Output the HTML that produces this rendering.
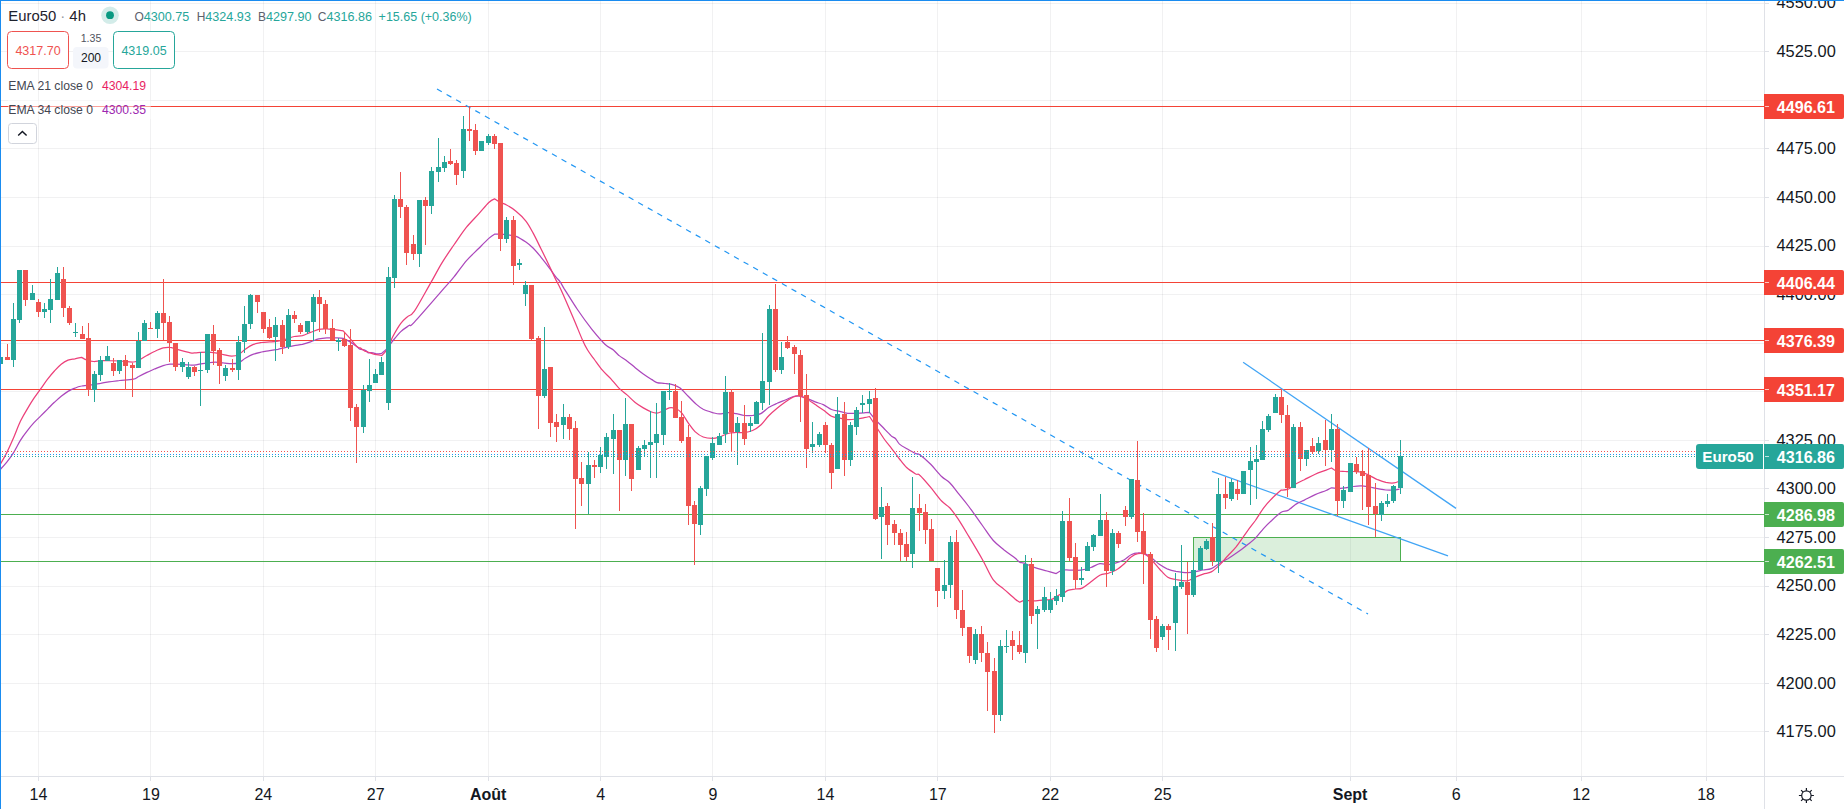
<!DOCTYPE html>
<html><head><meta charset="utf-8"><title>Euro50 4h</title>
<style>html,body{margin:0;padding:0;background:#fff;overflow:hidden}body{width:1844px;height:809px;position:relative;font-family:'Liberation Sans', Arial, sans-serif}</style></head>
<body>
<svg width="1844" height="809" viewBox="0 0 1844 809" style="position:absolute;left:0;top:0">
<defs><clipPath id="cp"><rect x="0" y="0" width="1764" height="776"/></clipPath></defs>
<rect width="1844" height="809" fill="#fff"/>
<path d="M38.5 0V776 M150.5 0V776 M263.5 0V776 M375.5 0V776 M488.5 0V776 M600.5 0V776 M712.5 0V776 M825.5 0V776 M937.5 0V776 M1050.5 0V776 M1162.5 0V776 M1350.5 0V776 M1456.5 0V776 M1581.5 0V776 M1706.5 0V776 M0 3.5H1764 M0 51.5H1764 M0 100.5H1764 M0 148.5H1764 M0 197.5H1764 M0 246.5H1764 M0 294.5H1764 M0 343.5H1764 M0 391.5H1764 M0 440.5H1764 M0 488.5H1764 M0 537.5H1764 M0 586.5H1764 M0 634.5H1764 M0 683.5H1764 M0 731.5H1764" stroke="rgba(42,46,57,0.065)" stroke-width="1" fill="none"/>
<g clip-path="url(#cp)">
<rect x="1193.5" y="537.5" width="207" height="24" fill="rgba(76,175,80,0.2)" stroke="#4caf50" stroke-width="1"/>
<path d="M0 106.5H1764" stroke="#f44336" stroke-width="1" shape-rendering="crispEdges"/>
<path d="M0 282.5H1764" stroke="#f44336" stroke-width="1" shape-rendering="crispEdges"/>
<path d="M0 340.5H1764" stroke="#f44336" stroke-width="1" shape-rendering="crispEdges"/>
<path d="M0 389.5H1764" stroke="#f44336" stroke-width="1" shape-rendering="crispEdges"/>
<path d="M0 514.5H1764" stroke="#4caf50" stroke-width="1" shape-rendering="crispEdges"/>
<path d="M0 561.5H1764" stroke="#4caf50" stroke-width="1" shape-rendering="crispEdges"/>
<path d="M437 89L1368 614" stroke="#2196f3" stroke-width="1.2" stroke-dasharray="5.5 5.5" fill="none"/>
<path d="M1243.1 362.2L1456 508.4" stroke="#42a5f5" stroke-width="1.3" fill="none"/>
<path d="M1212 471.4L1448 555.8" stroke="#42a5f5" stroke-width="1.3" fill="none"/>
<path d="M0.0 469.7C1.1 468.5 4.5 465.0 6.8 462.1C9.1 459.3 11.3 456.2 13.6 452.6C15.9 449.0 18.1 444.0 20.4 440.4C22.7 436.7 24.9 433.8 27.2 430.9C29.5 427.9 31.7 425.2 34.0 422.7C36.3 420.2 38.5 418.2 40.8 415.9C43.1 413.6 45.3 411.4 47.6 409.1C49.9 406.8 52.1 404.4 54.4 402.3C56.7 400.2 58.9 398.1 61.2 396.3C63.5 394.5 65.7 392.8 68.0 391.4C70.3 390.1 72.5 389.1 74.8 388.2C77.1 387.2 79.5 386.4 81.6 386.0C83.6 385.5 85.0 385.7 87.0 385.4C89.1 385.2 91.6 385.0 93.8 384.6C96.1 384.3 98.1 383.7 100.6 383.3C103.1 382.8 105.6 382.4 108.8 381.9C112.0 381.4 115.6 381.0 119.7 380.5C123.7 380.1 130.1 379.9 133.3 379.2C136.4 378.5 136.4 377.6 138.7 376.5C141.0 375.3 144.1 373.7 146.9 372.4C149.6 371.1 152.3 370.0 155.0 368.8C157.7 367.7 160.7 366.4 163.2 365.6C165.7 364.8 167.7 364.5 170.0 364.2C172.2 364.0 173.4 364.1 176.8 364.2C180.2 364.4 187.1 364.9 190.4 365.0C193.6 365.1 193.5 365.1 196.3 364.8C199.1 364.4 204.0 363.3 207.2 362.9C210.4 362.4 212.6 362.0 215.4 362.0C218.1 362.0 220.8 362.6 223.5 362.9C226.2 363.1 229.2 363.7 231.7 363.7C234.2 363.7 236.2 363.8 238.5 362.9C240.7 362.0 242.8 359.7 245.3 358.2C247.8 356.8 250.7 355.2 253.4 354.2C256.1 353.1 258.9 352.6 261.6 352.0C264.3 351.4 267.0 351.1 269.7 350.6C272.5 350.2 275.2 349.8 277.9 349.3C280.6 348.7 283.3 348.0 286.1 347.4C288.8 346.8 291.5 346.2 294.2 345.7C296.9 345.2 299.7 345.0 302.4 344.4C305.1 343.7 307.8 342.8 310.5 341.9C313.3 341.0 316.0 339.6 318.7 338.9C321.4 338.3 324.1 338.0 326.9 337.8C329.6 337.7 332.3 337.8 335.0 337.8C337.7 337.9 340.7 337.7 343.2 338.4C345.7 339.1 347.7 340.6 350.0 341.9C352.2 343.3 355.1 345.3 356.8 346.5C358.4 347.8 358.6 348.7 360.0 349.3C361.4 349.9 363.6 349.5 364.9 350.1C366.3 350.7 368.2 352.8 368.2 352.8C368.2 352.8 371.7 352.6 373.1 352.8C374.5 353.0 374.9 353.8 376.3 353.9C377.8 354.0 381.8 353.3 381.8 353.3C381.8 353.3 385.4 350.5 387.2 348.4C389.0 346.4 390.4 343.9 392.6 341.1C394.9 338.3 398.1 334.2 400.8 331.6C403.5 329.0 406.7 327.2 409.0 325.6C411.2 324.0 408.3 328.6 414.4 322.1C420.5 315.6 438.9 294.1 445.5 286.6C452.2 279.0 450.7 281.0 454.2 276.7C457.7 272.4 462.4 265.4 466.5 260.6C470.7 255.9 475.2 252.0 478.9 248.3C482.6 244.5 486.2 240.7 488.8 238.4C491.4 236.0 494.5 234.2 494.5 234.2C494.5 234.2 498.4 234.1 500.4 234.2C502.4 234.2 504.0 234.3 506.6 234.7C509.2 235.0 512.8 235.2 516.0 236.4C519.2 237.6 523.0 240.1 525.9 242.1C528.8 244.1 530.8 245.8 533.3 248.3C535.8 250.7 538.0 253.6 540.7 256.9C543.5 260.3 547.2 265.1 549.6 268.4C552.1 271.7 553.8 274.5 555.6 276.7C557.3 278.9 558.6 279.7 560.0 281.6C561.4 283.6 561.3 284.0 564.1 288.6C567.0 293.1 572.5 302.2 577.1 309.0C581.7 315.8 587.3 323.5 591.9 329.4C596.6 335.2 601.4 340.8 604.9 344.2C608.5 347.6 611.1 348.1 613.4 350.0C615.8 351.9 616.6 353.6 618.9 355.4C621.1 357.3 624.3 358.8 627.0 360.9C629.7 362.9 632.5 365.5 635.2 367.7C637.9 369.9 640.6 372.0 643.3 373.9C646.1 375.9 649.2 377.9 651.5 379.4C653.8 380.8 654.7 382.0 656.9 382.6C659.2 383.3 662.4 383.1 665.1 383.5C667.8 383.8 670.8 384.0 673.3 384.8C675.8 385.6 677.6 386.2 680.1 388.1C682.6 390.0 685.5 393.5 688.2 396.2C690.9 399.0 693.9 402.2 696.4 404.4C698.9 406.6 700.5 407.9 703.2 409.3C705.9 410.6 710.0 411.8 712.7 412.6C715.4 413.3 717.0 413.9 719.5 413.9C722.0 413.9 725.1 412.7 727.9 412.7C730.7 412.6 733.3 413.1 736.1 413.6C738.8 414.1 741.7 415.2 744.5 415.5C747.2 415.8 749.9 415.8 752.6 415.5C755.4 415.2 758.1 415.0 760.8 413.6C763.5 412.2 766.2 409.1 769.0 407.3C771.7 405.6 774.4 404.5 777.1 403.3C779.8 402.0 782.6 401.1 785.3 400.0C788.0 398.9 791.2 397.1 793.4 396.5C795.7 395.8 796.6 395.6 798.9 395.9C801.1 396.2 804.3 397.4 807.0 398.4C809.7 399.4 812.5 400.9 815.2 401.9C817.9 402.9 820.6 403.4 823.3 404.6C826.1 405.9 828.8 408.4 831.5 409.5C834.2 410.6 836.9 410.8 839.7 411.4C842.4 412.1 845.1 413.0 847.8 413.3C850.5 413.6 853.3 413.4 856.0 413.3C858.7 413.2 861.9 413.0 864.1 412.8C866.4 412.6 869.5 412.3 869.5 412.3C869.5 412.3 873.6 417.5 875.9 420.2C878.3 422.9 881.3 425.7 883.8 428.3C886.4 431.0 889.4 434.2 891.3 435.9C893.3 437.6 894.0 437.1 895.4 438.5C896.7 439.8 897.6 442.3 899.5 444.1C901.4 445.8 904.2 447.2 906.9 448.7C909.7 450.3 913.7 452.6 915.8 453.6C918.0 454.6 917.3 453.0 919.8 454.8C922.3 456.6 927.1 460.7 930.7 464.3C934.3 467.9 938.4 473.5 941.6 476.5C944.8 479.6 947.0 480.1 949.7 482.8C952.5 485.5 954.7 488.9 957.9 492.9C961.1 496.8 964.7 501.0 968.8 506.5C972.9 511.9 978.3 519.8 982.4 525.5C986.5 531.2 989.6 536.4 993.3 540.5C996.9 544.5 1000.5 547.0 1004.1 550.0C1007.8 552.9 1012.4 556.1 1015.0 558.1C1017.6 560.2 1018.1 561.4 1019.7 562.2C1021.2 563.1 1021.6 562.3 1024.1 563.2C1026.7 564.1 1031.2 566.4 1035.0 567.7C1038.8 569.0 1043.5 570.0 1047.0 571.0C1050.6 572.0 1056.2 573.6 1056.2 573.6C1056.2 573.6 1060.3 570.8 1062.5 570.2C1064.6 569.6 1066.2 570.1 1069.3 570.1C1072.3 570.1 1077.2 570.6 1080.8 570.2C1084.5 569.8 1087.9 568.6 1091.0 567.5C1094.2 566.4 1097.0 564.2 1099.8 563.7C1102.7 563.3 1105.3 564.7 1108.0 564.6C1110.7 564.4 1113.4 563.7 1116.1 562.9C1118.9 562.1 1121.8 561.0 1124.3 559.7C1126.8 558.3 1128.8 555.9 1131.1 554.8C1133.4 553.6 1135.6 553.0 1137.9 552.9C1140.2 552.7 1142.4 552.9 1144.7 553.7C1147.0 554.5 1149.0 555.9 1151.5 557.8C1154.0 559.6 1156.9 562.7 1159.7 564.6C1162.4 566.5 1165.1 568.0 1167.8 569.2C1170.5 570.3 1172.8 570.8 1176.0 571.4C1179.2 571.9 1183.7 572.6 1186.9 572.7C1190.0 572.8 1192.3 572.4 1195.0 571.9C1197.7 571.4 1200.5 570.5 1203.2 570.0C1205.9 569.5 1208.6 569.8 1211.3 568.6C1214.1 567.5 1216.7 564.9 1219.5 563.2C1222.3 561.5 1225.1 560.3 1227.9 558.7C1230.7 557.0 1232.8 555.5 1236.1 553.2C1239.3 551.0 1244.0 547.5 1247.2 544.9C1250.4 542.4 1252.6 540.9 1255.4 538.1C1258.1 535.4 1260.8 531.6 1263.5 528.6C1266.2 525.7 1268.7 523.2 1271.7 520.5C1274.6 517.7 1278.5 514.0 1281.2 512.3C1283.9 510.6 1285.5 511.8 1288.0 510.4C1290.5 509.0 1293.4 505.9 1296.1 504.1C1298.9 502.4 1301.1 501.6 1304.3 500.1C1307.5 498.5 1311.6 496.2 1315.2 494.6C1318.8 493.0 1323.3 491.7 1326.1 490.5C1328.8 489.4 1329.7 488.2 1331.5 487.8C1333.3 487.5 1334.7 488.4 1336.9 488.4C1339.2 488.4 1342.4 488.1 1345.1 487.8C1347.8 487.5 1350.5 486.8 1353.3 486.5C1356.0 486.1 1358.7 485.8 1361.4 485.9C1364.1 486.0 1366.9 486.6 1369.6 487.0C1372.3 487.5 1375.0 488.1 1377.7 488.6C1380.5 489.1 1383.2 489.8 1385.9 490.0C1388.6 490.2 1391.8 490.1 1394.1 490.0C1396.3 489.9 1398.6 489.3 1399.5 489.2" stroke="#ab47bc" stroke-width="1.25" fill="none" stroke-linejoin="round"/>
<path d="M0.0 464.8C1.1 462.8 4.5 457.1 6.8 452.6C9.1 448.1 11.3 442.9 13.6 437.7C15.9 432.4 18.1 426.1 20.4 421.3C22.7 416.6 24.9 412.9 27.2 409.1C29.5 405.2 31.7 401.6 34.0 398.2C36.3 394.8 38.5 391.9 40.8 388.7C43.1 385.5 45.3 382.1 47.6 379.2C49.9 376.2 52.1 373.5 54.4 371.0C56.7 368.5 58.9 366.0 61.2 364.2C63.5 362.4 65.7 361.1 68.0 360.1C70.3 359.2 72.5 359.2 74.8 358.8C77.1 358.3 81.6 357.4 81.6 357.4C81.6 357.4 85.0 359.5 87.0 360.1C89.1 360.8 91.6 361.4 93.8 361.5C96.1 361.6 98.1 360.8 100.6 360.7C103.1 360.6 105.6 360.6 108.8 360.7C112.0 360.7 115.6 360.7 119.7 361.0C123.7 361.2 130.1 362.2 133.3 362.0C136.4 361.9 136.4 361.2 138.7 360.1C141.0 359.1 144.1 357.0 146.9 355.5C149.6 354.0 152.3 352.4 155.0 351.2C157.7 349.9 160.7 348.5 163.2 347.9C165.7 347.3 167.7 347.1 170.0 347.4C172.2 347.6 173.4 348.4 176.8 349.3C180.2 350.2 187.1 352.2 190.4 352.8C193.6 353.4 193.5 352.9 196.3 352.8C199.1 352.7 204.0 352.0 207.2 352.0C210.4 352.0 212.6 352.3 215.4 352.8C218.1 353.3 220.8 354.2 223.5 354.7C226.2 355.2 229.2 356.1 231.7 356.1C234.2 356.1 236.2 355.8 238.5 354.7C240.7 353.6 242.8 351.0 245.3 349.3C247.8 347.5 250.7 345.5 253.4 344.4C256.1 343.2 258.9 342.9 261.6 342.5C264.3 342.1 267.0 342.1 269.7 341.9C272.5 341.7 275.2 341.6 277.9 341.1C280.6 340.7 283.3 340.0 286.1 339.2C288.8 338.4 291.5 337.1 294.2 336.5C296.9 335.9 299.7 336.3 302.4 335.7C305.1 335.0 307.8 333.4 310.5 332.4C313.3 331.4 316.0 330.0 318.7 329.4C321.4 328.8 324.1 328.8 326.9 328.9C329.6 328.9 332.3 329.4 335.0 329.7C337.7 330.0 343.2 330.8 343.2 330.8C343.2 330.8 347.7 335.8 350.0 338.4C352.2 341.0 355.1 345.0 356.8 346.5C358.4 348.1 358.6 347.1 360.0 347.9C361.4 348.7 363.6 350.5 364.9 351.2C366.3 351.8 366.8 351.5 368.2 352.0C369.5 352.4 371.7 353.4 373.1 353.9C374.5 354.3 374.9 354.4 376.3 354.7C377.8 355.0 381.8 355.5 381.8 355.5C381.8 355.5 385.4 352.3 387.2 349.3C389.0 346.2 390.4 341.3 392.6 337.0C394.9 332.7 398.3 326.8 400.8 323.4C403.3 320.0 405.3 318.7 407.6 316.6C409.9 314.6 410.5 316.8 414.4 311.2C418.2 305.6 426.1 290.9 430.7 282.9C435.3 274.9 437.9 269.5 441.8 263.1C445.7 256.7 450.1 250.5 454.2 244.5C458.3 238.6 462.4 232.4 466.5 227.2C470.7 222.1 475.2 217.8 478.9 213.6C482.6 209.5 486.2 205.0 488.8 202.5C491.4 200.0 494.5 198.8 494.5 198.8C494.5 198.8 498.4 201.5 500.4 202.5C502.4 203.5 504.0 203.5 506.6 205.0C509.2 206.4 512.8 208.5 516.0 211.2C519.2 213.8 523.0 217.3 525.9 221.1C528.8 224.8 530.8 228.9 533.3 233.4C535.8 238.0 538.0 242.7 540.7 248.3C543.5 253.8 547.2 261.4 549.6 266.5C552.1 271.7 553.7 275.3 555.6 279.2C557.5 283.1 558.2 283.5 561.1 290.0C564.1 296.6 569.8 309.8 573.4 318.2C577.0 326.6 580.3 335.2 582.7 340.5C585.0 345.8 585.6 346.8 587.6 350.0C589.5 353.2 591.9 356.1 594.4 359.5C596.9 362.9 599.8 367.2 602.6 370.4C605.3 373.6 608.0 375.6 610.7 378.6C613.4 381.5 616.1 385.4 618.9 388.1C621.6 390.8 624.3 392.5 627.0 394.9C629.7 397.3 632.5 400.3 635.2 402.5C637.9 404.7 640.6 406.3 643.3 407.9C646.1 409.5 649.2 411.1 651.5 412.0C653.8 412.9 655.1 413.2 656.9 413.1C658.8 413.0 660.3 412.1 662.4 411.2C664.4 410.3 667.1 408.4 669.2 407.9C671.3 407.5 673.1 407.7 675.2 408.5C677.2 409.2 679.2 410.1 681.4 412.6C683.6 415.0 686.0 419.7 688.2 422.9C690.5 426.1 692.5 429.2 695.0 431.6C697.5 433.9 700.2 435.9 703.2 437.0C706.1 438.2 710.0 438.4 712.7 438.4C715.4 438.4 717.0 437.8 719.5 437.0C722.0 436.2 725.1 434.2 727.9 433.5C730.7 432.7 733.3 432.7 736.1 432.5C738.8 432.4 741.7 433.0 744.5 432.6C747.2 432.3 749.9 431.7 752.6 430.5C755.4 429.2 758.1 427.5 760.8 425.0C763.5 422.5 766.2 418.3 769.0 415.5C771.7 412.7 774.4 410.4 777.1 408.2C779.8 405.9 782.6 403.8 785.3 401.9C788.0 400.0 791.2 398.0 793.4 397.0C795.7 396.0 796.6 395.6 798.9 395.9C801.1 396.3 804.3 397.7 807.0 399.2C809.7 400.6 812.5 402.8 815.2 404.6C817.9 406.4 820.6 408.1 823.3 410.1C826.1 412.0 828.8 415.0 831.5 416.3C834.2 417.7 836.9 417.7 839.7 418.2C842.4 418.8 845.1 419.4 847.8 419.6C850.5 419.7 853.3 419.4 856.0 419.0C858.7 418.7 861.9 418.1 864.1 417.7C866.4 417.3 869.5 416.5 869.5 416.5C869.5 416.5 873.6 422.6 875.9 426.3C878.3 430.0 881.3 434.9 883.8 438.5C886.4 442.2 889.4 445.7 891.3 448.1C893.3 450.6 894.0 451.6 895.4 453.4C896.7 455.2 897.6 456.6 899.5 459.0C901.4 461.4 904.2 465.3 906.9 467.8C909.7 470.3 913.7 472.7 915.8 474.0C918.0 475.2 917.3 472.9 919.8 475.2C922.3 477.4 927.1 483.1 930.7 487.4C934.3 491.7 938.4 497.6 941.6 501.0C944.8 504.4 947.0 504.9 949.7 507.8C952.5 510.8 954.7 513.9 957.9 518.7C961.1 523.5 964.7 529.6 968.8 536.4C972.9 543.2 978.3 552.2 982.4 559.5C986.5 566.7 989.6 574.9 993.3 579.9C996.9 584.9 1000.5 586.2 1004.1 589.4C1007.8 592.6 1012.4 596.8 1015.0 598.9C1017.6 601.1 1019.7 602.2 1019.7 602.2C1019.7 602.2 1022.8 600.5 1025.1 600.3C1027.4 600.1 1030.1 600.9 1033.3 600.9C1036.4 600.8 1041.2 600.0 1044.1 599.8C1047.1 599.6 1049.1 600.0 1050.9 599.6C1052.7 599.3 1053.7 598.4 1055.0 597.6C1056.4 596.8 1057.7 595.7 1059.0 595.0C1060.4 594.3 1061.7 594.3 1063.2 593.5C1064.7 592.7 1065.9 591.1 1067.9 590.3C1069.9 589.6 1073.0 589.4 1075.4 589.0C1077.7 588.7 1079.6 589.4 1082.2 588.1C1084.8 586.9 1088.1 583.9 1091.0 581.8C1094.0 579.6 1097.0 576.6 1099.8 575.2C1102.7 573.7 1105.3 574.1 1108.0 573.3C1110.7 572.4 1113.4 571.6 1116.1 570.0C1118.9 568.4 1121.8 565.9 1124.3 563.7C1126.8 561.6 1128.8 558.6 1131.1 556.9C1133.4 555.3 1135.6 554.1 1137.9 553.7C1140.2 553.2 1142.4 553.2 1144.7 554.2C1147.0 555.2 1149.0 557.2 1151.5 559.7C1154.0 562.2 1156.9 566.2 1159.7 569.2C1162.4 572.1 1165.1 575.6 1167.8 577.3C1170.5 579.1 1172.8 578.9 1176.0 579.5C1179.2 580.1 1183.7 581.2 1186.9 580.9C1190.0 580.5 1192.3 578.5 1195.0 577.3C1197.7 576.2 1200.5 575.0 1203.2 574.1C1205.9 573.2 1208.6 573.4 1211.3 571.9C1214.1 570.4 1216.7 567.8 1219.5 565.1C1222.3 562.4 1225.1 558.7 1227.9 555.7C1230.7 552.7 1232.8 550.9 1236.1 546.9C1239.3 542.8 1244.0 535.7 1247.2 531.3C1250.4 526.9 1252.6 524.3 1255.4 520.5C1258.1 516.6 1260.8 511.8 1263.5 508.2C1266.2 504.6 1268.7 501.7 1271.7 498.7C1274.6 495.7 1281.2 490.0 1281.2 490.0C1281.2 490.0 1285.5 490.2 1288.0 489.2C1290.5 488.1 1293.4 485.3 1296.1 483.7C1298.9 482.2 1301.1 481.2 1304.3 479.7C1307.5 478.1 1311.6 475.8 1315.2 474.2C1318.8 472.6 1323.3 471.2 1326.1 470.1C1328.8 469.1 1331.5 468.0 1331.5 468.0C1331.5 468.0 1334.7 470.4 1336.9 471.0C1339.2 471.5 1342.4 471.4 1345.1 471.5C1347.8 471.6 1350.5 471.4 1353.3 471.5C1356.0 471.6 1358.7 471.4 1361.4 472.0C1364.1 472.7 1366.9 474.3 1369.6 475.6C1372.3 476.9 1375.0 478.5 1377.7 479.7C1380.5 480.8 1383.2 481.8 1385.9 482.4C1388.6 482.9 1391.8 483.2 1394.1 482.9C1396.3 482.7 1398.6 481.3 1399.5 481.0" stroke="#ec407a" stroke-width="1.25" fill="none" stroke-linejoin="round"/>
<path d="M0.5 357V364 M13.5 303V367 M19.5 270V323 M32.5 285V300 M44.5 303V318 M50.5 279V323 M57.5 267V300 M75.5 323V337 M94.5 371V402 M100.5 356V381 M107.5 346V361 M119.5 360V374 M138.5 332V368 M144.5 320V341 M157.5 311V338 M182.5 358V372 M188.5 362V379 M200.5 352V406 M207.5 334V373 M225.5 365V381 M238.5 336V380 M244.5 306V353 M250.5 294V329 M275.5 317V361 M288.5 309V349 M307.5 321V334 M313.5 294V341 M338.5 338V351 M363.5 385V433 M369.5 359V402 M375.5 369V383 M381.5 357V375 M388.5 267V410 M394.5 195V288 M419.5 200V267 M431.5 167V214 M438.5 138V182 M444.5 156V172 M463.5 116V178 M481.5 141V151 M488.5 134V145 M506.5 217V243 M519.5 259V270 M525.5 281V306 M544.5 327V398 M563.5 404V439 M588.5 452V514 M600.5 447V473 M606.5 433V469 M613.5 414V474 M625.5 398V476 M638.5 446V470 M644.5 440V456 M650.5 411V478 M656.5 403V478 M663.5 391V445 M669.5 383V400 M700.5 486V535 M706.5 456V496 M712.5 437V460 M719.5 433V445 M725.5 376V443 M737.5 417V465 M750.5 417V432 M756.5 401V424 M762.5 333V410 M769.5 305V405 M781.5 342V374 M812.5 422V453 M819.5 432V447 M837.5 397V469 M850.5 422V466 M856.5 407V435 M862.5 395V413 M869.5 391V413 M881.5 487V559 M912.5 477V568 M944.5 560V599 M950.5 536V598 M975.5 629V664 M1000.5 640V721 M1006.5 630V653 M1025.5 555V663 M1037.5 606V649 M1044.5 587V612 M1050.5 592V613 M1056.5 589V605 M1062.5 511V602 M1081.5 567V585 M1087.5 542V571 M1093.5 534V551 M1100.5 494V536 M1112.5 529V575 M1131.5 479V519 M1162.5 624V640 M1175.5 573V651 M1181.5 545V589 M1193.5 561V597 M1200.5 546V570 M1206.5 539V550 M1218.5 478V573 M1231.5 479V501 M1243.5 471V494 M1250.5 447V505 M1256.5 445V499 M1262.5 421V460 M1268.5 414V432 M1275.5 394V413 M1293.5 424V488 M1306.5 450V466 M1318.5 437V454 M1331.5 414V462 M1343.5 486V508 M1350.5 463V492 M1381.5 501V521 M1387.5 494V507 M1393.5 485V503 M1400.5 440V494" stroke="#26a69a" stroke-width="1" fill="none"/>
<path d="M7.5 344V360 M25.5 270V306 M38.5 299V317 M63.5 267V317 M69.5 306V325 M82.5 326V339 M88.5 323V396 M113.5 358V376 M125.5 355V390 M132.5 363V397 M150.5 322V329 M163.5 279V340 M169.5 316V362 M175.5 343V371 M194.5 366V376 M213.5 325V365 M219.5 348V384 M232.5 359V372 M257.5 295V313 M263.5 312V333 M269.5 319V339 M282.5 320V354 M294.5 311V323 M300.5 323V334 M319.5 290V332 M325.5 300V334 M332.5 319V340 M344.5 332V347 M350.5 329V421 M356.5 404V463 M400.5 172V218 M406.5 205V265 M413.5 235V260 M425.5 197V245 M450.5 149V165 M456.5 160V185 M469.5 107V141 M475.5 124V155 M494.5 134V149 M500.5 143V251 M513.5 216V285 M531.5 285V340 M538.5 336V429 M550.5 367V437 M556.5 414V442 M569.5 414V440 M575.5 421V529 M581.5 462V506 M594.5 460V478 M619.5 430V511 M631.5 424V491 M675.5 384V418 M681.5 401V443 M688.5 425V525 M694.5 501V565 M731.5 389V452 M744.5 405V445 M775.5 284V372 M787.5 336V349 M794.5 345V374 M800.5 350V422 M806.5 374V468 M825.5 422V453 M831.5 443V489 M844.5 402V476 M875.5 388V520 M887.5 503V545 M894.5 520V545 M900.5 529V561 M906.5 532V561 M919.5 494V531 M925.5 504V544 M931.5 519V561 M937.5 568V607 M956.5 530V619 M962.5 590V636 M969.5 627V663 M981.5 626V662 M987.5 642V711 M994.5 658V733 M1012.5 631V660 M1019.5 631V654 M1031.5 558V624 M1069.5 498V561 M1075.5 543V589 M1106.5 512V587 M1118.5 531V548 M1125.5 506V526 M1137.5 441V542 M1143.5 513V584 M1150.5 552V639 M1156.5 616V652 M1168.5 624V650 M1187.5 562V634 M1212.5 523V566 M1225.5 477V509 M1237.5 480V500 M1281.5 389V423 M1287.5 405V497 M1300.5 422V471 M1312.5 438V454 M1325.5 420V466 M1337.5 424V516 M1356.5 457V474 M1362.5 450V510 M1368.5 448V525 M1375.5 483V537" stroke="#ef5350" stroke-width="1" fill="none"/>
<path d="M-2 357h5V364h-5z M11 319h5V360h-5z M17 270h5V320h-5z M30 293h5V300h-5z M42 309h5V312h-5z M48 299h5V310h-5z M55 273h5V300h-5z M73 332h5V333h-5z M92 374h5V390h-5z M98 360h5V375h-5z M105 356h5V361h-5z M117 360h5V371h-5z M136 341h5V368h-5z M142 323h5V341h-5z M155 313h5V329h-5z M180 362h5V367h-5z M186 367h5V377h-5z M198 370h5V371h-5z M205 334h5V370h-5z M223 368h5V376h-5z M236 342h5V370h-5z M242 324h5V342h-5z M248 295h5V324h-5z M273 325h5V337h-5z M286 315h5V347h-5z M305 321h5V332h-5z M311 297h5V322h-5z M336 340h5V342h-5z M361 390h5V427h-5z M367 385h5V391h-5z M373 374h5V383h-5z M379 362h5V375h-5z M386 277h5V403h-5z M392 199h5V278h-5z M417 200h5V254h-5z M429 171h5V206h-5z M436 167h5V172h-5z M442 162h5V168h-5z M461 129h5V171h-5z M479 141h5V151h-5z M486 136h5V143h-5z M504 220h5V239h-5z M517 263h5V265h-5z M523 285h5V294h-5z M542 369h5V396h-5z M561 417h5V425h-5z M586 465h5V484h-5z M598 455h5V467h-5z M604 437h5V457h-5z M611 430h5V439h-5z M623 424h5V460h-5z M636 448h5V470h-5z M642 445h5V449h-5z M648 442h5V445h-5z M654 434h5V443h-5z M661 391h5V435h-5z M667 391h5V392h-5z M698 488h5V525h-5z M704 456h5V489h-5z M710 443h5V458h-5z M717 436h5V445h-5z M723 392h5V434h-5z M735 423h5V432h-5z M748 423h5V426h-5z M754 402h5V424h-5z M760 381h5V403h-5z M767 309h5V382h-5z M779 357h5V370h-5z M810 444h5V447h-5z M817 434h5V445h-5z M835 414h5V469h-5z M848 425h5V460h-5z M854 410h5V427h-5z M860 403h5V405h-5z M867 399h5V404h-5z M879 507h5V517h-5z M910 508h5V554h-5z M942 585h5V591h-5z M948 542h5V585h-5z M973 634h5V660h-5z M998 646h5V715h-5z M1004 646h5V647h-5z M1023 564h5V653h-5z M1035 609h5V614h-5z M1042 597h5V610h-5z M1048 600h5V610h-5z M1054 596h5V601h-5z M1060 521h5V597h-5z M1079 578h5V580h-5z M1085 546h5V571h-5z M1091 535h5V547h-5z M1098 520h5V536h-5z M1110 533h5V571h-5z M1129 479h5V517h-5z M1160 626h5V637h-5z M1173 586h5V623h-5z M1179 582h5V587h-5z M1191 570h5V595h-5z M1198 548h5V570h-5z M1204 541h5V549h-5z M1216 494h5V562h-5z M1229 482h5V499h-5z M1241 471h5V494h-5z M1248 461h5V470h-5z M1254 459h5V462h-5z M1260 429h5V460h-5z M1266 416h5V430h-5z M1273 397h5V413h-5z M1291 427h5V488h-5z M1304 450h5V459h-5z M1316 443h5V451h-5z M1329 429h5V450h-5z M1341 490h5V501h-5z M1348 463h5V492h-5z M1379 503h5V515h-5z M1385 501h5V504h-5z M1391 486h5V501h-5z M1398 456h5V488h-5z" fill="#26a69a"/>
<path d="M5 357h5V360h-5z M23 270h5V300h-5z M36 302h5V312h-5z M61 279h5V308h-5z M67 308h5V323h-5z M80 334h5V339h-5z M86 338h5V390h-5z M111 363h5V371h-5z M123 360h5V366h-5z M130 365h5V368h-5z M148 328h5V329h-5z M161 313h5V323h-5z M167 322h5V343h-5z M173 343h5V367h-5z M192 367h5V372h-5z M211 334h5V351h-5z M217 350h5V366h-5z M230 368h5V370h-5z M255 295h5V302h-5z M261 312h5V329h-5z M267 327h5V338h-5z M280 325h5V347h-5z M292 315h5V319h-5z M298 325h5V332h-5z M317 297h5V304h-5z M323 304h5V329h-5z M330 328h5V340h-5z M342 339h5V346h-5z M348 345h5V408h-5z M354 407h5V427h-5z M398 199h5V207h-5z M404 207h5V253h-5z M411 244h5V254h-5z M423 200h5V206h-5z M448 161h5V164h-5z M454 163h5V175h-5z M467 129h5V131h-5z M473 130h5V151h-5z M492 136h5V144h-5z M498 143h5V239h-5z M511 220h5V266h-5z M529 285h5V339h-5z M536 338h5V396h-5z M548 367h5V423h-5z M554 422h5V427h-5z M567 417h5V429h-5z M573 428h5V479h-5z M579 478h5V484h-5z M592 465h5V467h-5z M617 430h5V460h-5z M629 424h5V479h-5z M673 391h5V418h-5z M679 417h5V441h-5z M686 437h5V506h-5z M692 505h5V524h-5z M729 392h5V432h-5z M742 423h5V439h-5z M773 309h5V370h-5z M785 342h5V348h-5z M792 347h5V354h-5z M798 355h5V396h-5z M804 395h5V449h-5z M823 425h5V445h-5z M829 445h5V473h-5z M842 414h5V460h-5z M873 398h5V519h-5z M885 506h5V525h-5z M892 524h5V533h-5z M898 533h5V545h-5z M904 544h5V557h-5z M917 508h5V513h-5z M923 512h5V530h-5z M929 529h5V561h-5z M935 568h5V591h-5z M954 542h5V610h-5z M960 610h5V628h-5z M967 627h5V656h-5z M979 634h5V653h-5z M985 653h5V672h-5z M992 671h5V715h-5z M1010 640h5V646h-5z M1017 645h5V652h-5z M1029 564h5V616h-5z M1067 521h5V558h-5z M1073 557h5V580h-5z M1104 520h5V571h-5z M1116 533h5V544h-5z M1123 510h5V517h-5z M1135 480h5V532h-5z M1141 531h5V554h-5z M1148 554h5V620h-5z M1154 619h5V648h-5z M1166 626h5V630h-5z M1185 582h5V595h-5z M1210 537h5V561h-5z M1223 494h5V498h-5z M1235 489h5V494h-5z M1279 397h5V415h-5z M1285 415h5V488h-5z M1298 427h5V459h-5z M1310 446h5V452h-5z M1323 440h5V450h-5z M1335 429h5V501h-5z M1354 464h5V472h-5z M1360 471h5V476h-5z M1366 475h5V507h-5z M1373 506h5V514h-5z" fill="#ef5350"/>
<g shape-rendering="crispEdges" stroke-width="1" stroke-dasharray="1 2"><path d="M2 451.5H1696" stroke="#ef5350"/><path d="M2 454.5H1696" stroke="#2196f3"/><path d="M2 456.5H1696" stroke="#26a69a"/></g>
</g>
<path d="M1764.5 0V809M0 776.5H1844" stroke="#dfe1e7" stroke-width="1" fill="none"/>
<path d="M38.5 777V781 M150.5 777V781 M263.5 777V781 M375.5 777V781 M488.5 777V781 M600.5 777V781 M712.5 777V781 M825.5 777V781 M937.5 777V781 M1050.5 777V781 M1162.5 777V781 M1350.5 777V781 M1456.5 777V781 M1581.5 777V781 M1706.5 777V781" stroke="#dfe1e7" stroke-width="1" fill="none"/>
<g font-family="'Liberation Sans', Arial, sans-serif" font-size="16" fill="#131722" text-anchor="middle">
<text x="38.5" y="800">14</text>
<text x="150.9" y="800">19</text>
<text x="263.3" y="800">24</text>
<text x="375.7" y="800">27</text>
<text x="488.1" y="800" font-weight="bold">Août</text>
<text x="600.6" y="800">4</text>
<text x="713.0" y="800">9</text>
<text x="825.4" y="800">14</text>
<text x="937.8" y="800">17</text>
<text x="1050.3" y="800">22</text>
<text x="1162.7" y="800">25</text>
<text x="1350.1" y="800" font-weight="bold">Sept</text>
<text x="1456.2" y="800">6</text>
<text x="1581.2" y="800">12</text>
<text x="1706.1" y="800">18</text>
</g>
<g font-family="'Liberation Sans', Arial, sans-serif" font-size="16.4" fill="#131722">
<text x="1776.5" y="8.4">4550.00</text>
<text x="1776.5" y="57.0">4525.00</text>
<text x="1776.5" y="105.5">4500.00</text>
<text x="1776.5" y="154.1">4475.00</text>
<text x="1776.5" y="202.7">4450.00</text>
<text x="1776.5" y="251.3">4425.00</text>
<text x="1776.5" y="299.8">4400.00</text>
<text x="1776.5" y="348.4">4375.00</text>
<text x="1776.5" y="397.0">4350.00</text>
<text x="1776.5" y="445.6">4325.00</text>
<text x="1776.5" y="494.2">4300.00</text>
<text x="1776.5" y="542.8">4275.00</text>
<text x="1776.5" y="591.3">4250.00</text>
<text x="1776.5" y="639.9">4225.00</text>
<text x="1776.5" y="688.5">4200.00</text>
<text x="1776.5" y="737.1">4175.00</text>
</g>
<path d="M1765 3.5h4 M1765 51.5h4 M1765 100.5h4 M1765 148.5h4 M1765 197.5h4 M1765 246.5h4 M1765 294.5h4 M1765 343.5h4 M1765 391.5h4 M1765 440.5h4 M1765 488.5h4 M1765 537.5h4 M1765 586.5h4 M1765 634.5h4 M1765 683.5h4 M1765 731.5h4" stroke="#dfe1e7" stroke-width="1" fill="none"/>
<path d="M1764 93.9H1842q2 0 2 2V116.9q0 2 -2 2H1764z" fill="#f44336"/>
<path d="M1765 106.5h4" stroke="#fff" stroke-opacity="0.7" stroke-width="1"/>
<text x="1776.8" y="112.8" font-family="'Liberation Sans', Arial, sans-serif" font-size="16.1" font-weight="bold" fill="#fff">4496.61</text>
<path d="M1764 269.9H1842q2 0 2 2V292.9q0 2 -2 2H1764z" fill="#f44336"/>
<path d="M1765 282.5h4" stroke="#fff" stroke-opacity="0.7" stroke-width="1"/>
<text x="1776.8" y="288.8" font-family="'Liberation Sans', Arial, sans-serif" font-size="16.1" font-weight="bold" fill="#fff">4406.44</text>
<path d="M1764 327.9H1842q2 0 2 2V350.9q0 2 -2 2H1764z" fill="#f44336"/>
<path d="M1765 340.5h4" stroke="#fff" stroke-opacity="0.7" stroke-width="1"/>
<text x="1776.8" y="346.8" font-family="'Liberation Sans', Arial, sans-serif" font-size="16.1" font-weight="bold" fill="#fff">4376.39</text>
<path d="M1764 376.9H1842q2 0 2 2V399.9q0 2 -2 2H1764z" fill="#f44336"/>
<path d="M1765 389.5h4" stroke="#fff" stroke-opacity="0.7" stroke-width="1"/>
<text x="1776.8" y="395.8" font-family="'Liberation Sans', Arial, sans-serif" font-size="16.1" font-weight="bold" fill="#fff">4351.17</text>
<path d="M1764 501.9H1842q2 0 2 2V524.9q0 2 -2 2H1764z" fill="#4caf50"/>
<path d="M1765 514.5h4" stroke="#fff" stroke-opacity="0.7" stroke-width="1"/>
<text x="1776.8" y="520.8" font-family="'Liberation Sans', Arial, sans-serif" font-size="16.1" font-weight="bold" fill="#fff">4286.98</text>
<path d="M1764 548.9H1842q2 0 2 2V571.9q0 2 -2 2H1764z" fill="#4caf50"/>
<path d="M1765 561.5h4" stroke="#fff" stroke-opacity="0.7" stroke-width="1"/>
<text x="1776.8" y="567.8" font-family="'Liberation Sans', Arial, sans-serif" font-size="16.1" font-weight="bold" fill="#fff">4262.51</text>
<path d="M1764 443.9H1842q2 0 2 2V466.9q0 2 -2 2H1764z" fill="#26a69a"/>
<path d="M1765 456.5h4" stroke="#fff" stroke-opacity="0.7" stroke-width="1"/>
<text x="1776.8" y="462.8" font-family="'Liberation Sans', Arial, sans-serif" font-size="16.1" font-weight="bold" fill="#fff">4316.86</text>
<path d="M1699 443.9H1763V468.9H1699q-3 0 -3 -3V446.9q0 -3 3 -3z" fill="#26a69a"/>
<text x="1702.3" y="462.1" font-family="'Liberation Sans', Arial, sans-serif" font-size="15.2" font-weight="bold" fill="#fff">Euro50</text>
<circle cx="1806.4" cy="795.5" r="4.7" fill="none" stroke="#131722" stroke-width="1.2"/><path d="M1811.10 795.50L1813.90 795.50 M1809.72 798.82L1811.70 800.80 M1806.40 800.20L1806.40 803.00 M1803.08 798.82L1801.10 800.80 M1801.70 795.50L1798.90 795.50 M1803.08 792.18L1801.10 790.20 M1806.40 790.80L1806.40 788.00 M1809.72 792.18L1811.70 790.20" stroke="#131722" stroke-width="1.2" fill="none"/>
<path d="M0 0.5H1844M0.5 0V809" stroke="#1a8cf0" stroke-width="1" fill="none"/>
<g font-family="'Liberation Sans', Arial, sans-serif">
<text x="8.3" y="20.8" font-size="14.85" fill="#1e222d">Euro50 <tspan fill="#9598a1">·</tspan> 4h</text>
<circle cx="110" cy="15.2" r="8.8" fill="#d3ece9"/><circle cx="110" cy="15.2" r="3.9" fill="#089981"/>
<text x="134.5" y="21" font-size="12.6"><tspan fill="#5d606b" font-size="12">O</tspan><tspan fill="#26a69a">4300.75</tspan></text>
<text x="196.7" y="21" font-size="12.6"><tspan fill="#5d606b" font-size="12">H</tspan><tspan fill="#26a69a">4324.93</tspan></text>
<text x="257.9" y="21" font-size="12.6"><tspan fill="#5d606b" font-size="12">B</tspan><tspan fill="#26a69a">4297.90</tspan></text>
<text x="317.8" y="21" font-size="12.6"><tspan fill="#5d606b" font-size="12">C</tspan><tspan fill="#26a69a">4316.86</tspan></text>
<text x="378.6" y="21" font-size="12.5" fill="#26a69a">+15.65 (+0.36%)</text>
<rect x="7.5" y="31.5" width="61" height="37" rx="4" fill="#fff" stroke="#ef5350"/>
<text x="38" y="55.3" font-size="12.5" fill="#ef5350" text-anchor="middle">4317.70</text>
<rect x="113.5" y="31.5" width="61" height="37" rx="4" fill="#fff" stroke="#26a69a"/>
<text x="144" y="55.3" font-size="12.5" fill="#26a69a" text-anchor="middle">4319.05</text>
<text x="91" y="42.2" font-size="10.6" fill="#50535e" text-anchor="middle">1.35</text>
<rect x="73" y="47" width="35.5" height="21.5" rx="4" fill="#f4f6fb"/>
<text x="91" y="61.6" font-size="12.1" fill="#131722" text-anchor="middle">200</text>
<rect x="8" y="100" width="142.8" height="19" fill="#fff" fill-opacity="0.5"/>
<text x="8.3" y="90" font-size="12.2"><tspan fill="#434651">EMA 21 close 0</tspan><tspan x="101.9" fill="#e91e63">4304.19</tspan></text>
<text x="8.3" y="113.7" font-size="12.2"><tspan fill="#434651">EMA 34 close 0</tspan><tspan x="101.9" fill="#9c27b0">4300.35</tspan></text>
<rect x="8.5" y="123.5" width="28" height="20" rx="3" fill="#fff" stroke="#d1d4dc"/>
<path d="M18.2 135.6l4.2 -4.2l4.2 4.2" fill="none" stroke="#131722" stroke-width="1.4"/>
</g>
</svg>
</body></html>
